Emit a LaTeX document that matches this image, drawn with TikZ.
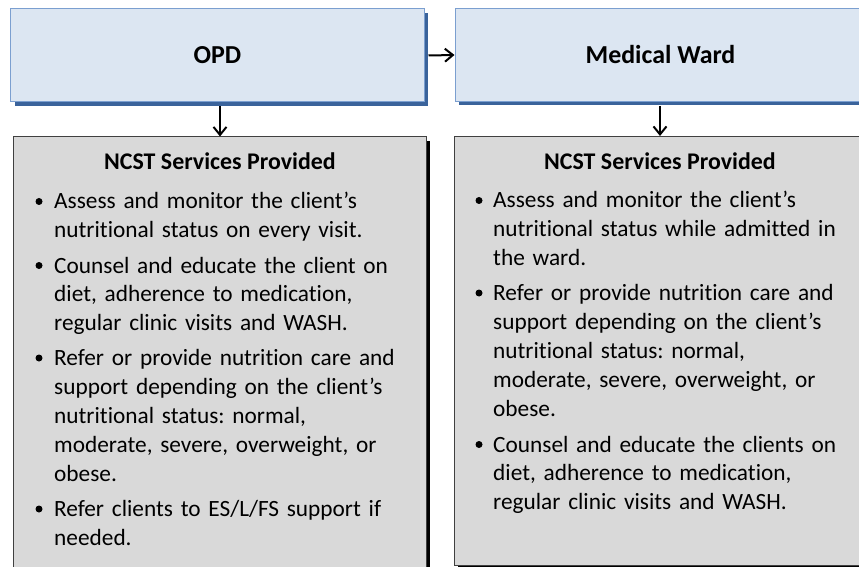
\documentclass[tikz,border=0pt]{standalone}
\usepackage{fontspec}
\setmainfont{Carlito}[Ligatures=NoCommon]
\frenchspacing
\usetikzlibrary{arrows.meta,shadows}
\definecolor{bfill}{HTML}{DCE6F2}
\definecolor{bdraw}{HTML}{7B9FD0}
\definecolor{bshadow}{HTML}{3A639B}
\definecolor{gfill}{HTML}{D9D9D9}
\definecolor{gdraw}{HTML}{404040}
\begin{document}
\begin{tikzpicture}[x=1bp,y=-1bp,
 hbox/.style={rectangle, fill=bfill, draw=bdraw, line width=1bp, inner sep=0,
   font=\fontsize{26}{31}\selectfont\bfseries,
   general shadow={fill=bshadow, shadow xshift=4bp, shadow yshift=-4bp}},
 gbox/.style={rectangle, fill=gfill, draw=gdraw, line width=1bp, inner sep=0,
   general shadow={fill=black, shadow xshift=4bp, shadow yshift=-4bp}},
 stitle/.style={font=\fontsize{24}{29}\selectfont\bfseries, anchor=base, inner sep=0},
 btext/.style={font=\fontsize{23.4}{29}\selectfont\frenchspacing, anchor=base west, inner sep=0, text width=400bp, align=left},
 dot/.style={circle, fill=black, inner sep=0, minimum size=7bp},
 conn/.style={line width=2bp, -{Straight Barb[length=8bp,width=13bp]}}]
\useasboundingbox (0,0) rectangle (859,567);
\clip (0,0) rectangle (859,567);
\fill[white] (0,0) rectangle (859,567);

\node[hbox, minimum width=413bp, minimum height=93bp] (opd) at (217.5,55.5) {OPD};
\node[hbox, minimum width=411bp, minimum height=93bp] (mw) at (660.5,55) {Medical Ward};

\node[gbox, minimum width=412bp, minimum height=463bp] (lbox) at (220,368.5) {};
\node[gbox, minimum width=412bp, minimum height=428.5bp] (rbox) at (660,350.75) {};

\draw[conn] ([xshift=4bp]opd.east) -- (mw.west);
\draw[conn] ([yshift=-4bp]lbox.north |- opd.south) -- (lbox.north);
\draw[conn] ([yshift=-4bp]rbox.north |- mw.south) -- (rbox.north);

\node[stitle] (lt) at (220,169.5) {NCST Services Provided};
\node[stitle] (rt) at (660,169.5) {NCST Services Provided};

\node[dot] (ld1) at (39,201.5) {};
\node[btext] (lb1) at (54,209) {Assess and monitor the client’s\\nutritional status on every visit.};
\node[dot] (ld2) at (39,265.5) {};
\node[btext] (lb2) at (54,273) {Counsel and educate the client on\\diet, adherence to medication,\\regular clinic visits and WASH.};
\node[dot] (ld3) at (39,358) {};
\node[btext] (lb3) at (54,365.5) {Refer or provide nutrition care and\\support depending on the client’s\\nutritional status: normal,\\moderate, severe, overweight, or\\obese.};
\node[dot] (ld4) at (39,509) {};
\node[btext] (lb4) at (54,516.5) {Refer clients to ES/L/FS support if\\needed.};

\node[dot] (rd1) at (479,200.5) {};
\node[btext] (rb1) at (493,208) {Assess and monitor the client’s\\nutritional status while admitted in\\the ward.};
\node[dot] (rd2) at (479,293) {};
\node[btext] (rb2) at (493,300.5) {Refer or provide nutrition care and\\support depending on the client’s\\nutritional status: normal,\\moderate, severe, overweight, or\\obese.};
\node[dot] (rd3) at (479,444.5) {};
\node[btext] (rb3) at (493,452) {Counsel and educate the clients on\\diet, adherence to medication,\\regular clinic visits and WASH.};
\end{tikzpicture}
\end{document}
